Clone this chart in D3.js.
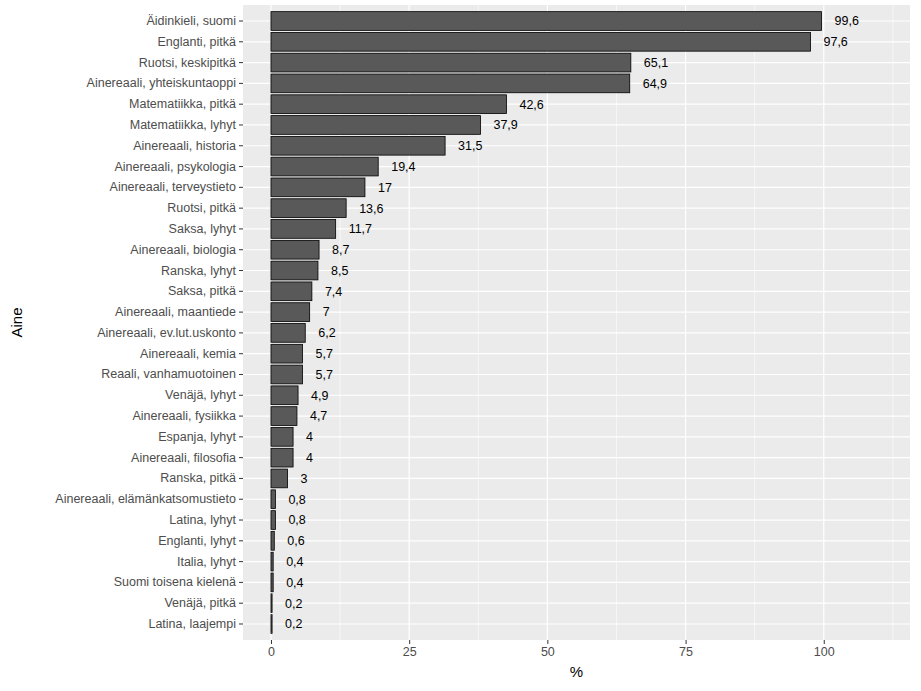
<!DOCTYPE html>
<html><head><meta charset="utf-8">
<script src="https://cdn.jsdelivr.net/npm/d3@7"></script>
<style>body{margin:0;background:#fff;font-family:"Liberation Sans",Arial,sans-serif}</style>
</head><body><div id="chart"></div>
<script>
const subjects = ["Äidinkieli, suomi","Englanti, pitkä","Ruotsi, keskipitkä","Ainereaali, yhteiskuntaoppi","Matematiikka, pitkä","Matematiikka, lyhyt","Ainereaali, historia","Ainereaali, psykologia","Ainereaali, terveystieto","Ruotsi, pitkä","Saksa, lyhyt","Ainereaali, biologia","Ranska, lyhyt","Saksa, pitkä","Ainereaali, maantiede","Ainereaali, ev.lut.uskonto","Ainereaali, kemia","Reaali, vanhamuotoinen","Venäjä, lyhyt","Ainereaali, fysiikka","Espanja, lyhyt","Ainereaali, filosofia","Ranska, pitkä","Ainereaali, elämänkatsomustieto","Latina, lyhyt","Englanti, lyhyt","Italia, lyhyt","Suomi toisena kielenä","Venäjä, pitkä","Latina, laajempi"];
const percents = [99.6,97.6,65.1,64.9,42.6,37.9,31.5,19.4,17,13.6,11.7,8.7,8.5,7.4,7,6.2,5.7,5.7,4.9,4.7,4,4,3,0.8,0.8,0.6,0.4,0.4,0.2,0.2];
const xTicks = [0,25,50,75,100];
const xMinor = [12.5,37.5,62.5,87.5,112.5];

const W = 921, H = 691;
const m = {left: 243, right: 11, top: 5, bottom: 51};
const pw = W - m.left - m.right, ph = H - m.top - m.bottom;

const svg = d3.select("#chart").append("svg").attr("width", W).attr("height", H);
const g = svg.append("g").attr("transform", `translate(${m.left},${m.top})`);

const x = d3.scaleLinear().domain([-5.06, 115.6]).range([0, pw]);
const y = d3.scaleBand().domain(subjects).range([0, ph]).paddingInner(0.1).paddingOuter(0.32);
const fmt = v => String(v).replace(".", ",");

g.append("rect").attr("width", pw).attr("height", ph).attr("fill", "#ebebeb");
g.selectAll(".minor").data(xMinor).join("line")
  .attr("x1", d => x(d)).attr("x2", d => x(d)).attr("y2", ph)
  .attr("stroke", "#fff").attr("stroke-width", 0.6);
g.selectAll(".vmaj").data(xTicks).join("line")
  .attr("x1", d => x(d)).attr("x2", d => x(d)).attr("y2", ph)
  .attr("stroke", "#fff").attr("stroke-width", 1.2);
g.selectAll(".hmaj").data(subjects).join("line")
  .attr("y1", d => y(d) + y.bandwidth() / 2).attr("y2", d => y(d) + y.bandwidth() / 2)
  .attr("x2", pw).attr("stroke", "#fff").attr("stroke-width", 1.2);

g.selectAll(".bar").data(subjects).join("rect")
  .attr("x", x(0)).attr("y", d => y(d))
  .attr("width", (d, i) => x(percents[i]) - x(0)).attr("height", y.bandwidth())
  .attr("fill", "#595959").attr("stroke", "#000").attr("stroke-width", 0.8);

g.selectAll(".lab").data(subjects).join("text")
  .attr("x", (d, i) => x(percents[i]) + 13).attr("y", d => y(d) + y.bandwidth() / 2)
  .attr("dy", "0.35em").attr("font-size", 12.5).attr("fill", "#000")
  .text((d, i) => fmt(percents[i]));

const ya = g.append("g").call(d3.axisLeft(y).tickSize(4).tickPadding(3));
ya.select(".domain").remove();
ya.selectAll("line").attr("stroke", "#333");
ya.selectAll("text").attr("font-size", 12.5).attr("fill", "#4d4d4d").attr("font-family", "Liberation Sans, Arial");

const xa = g.append("g").attr("transform", `translate(0,${ph})`).call(d3.axisBottom(x).tickValues(xTicks).tickSize(4).tickPadding(3));
xa.select(".domain").remove();
xa.selectAll("line").attr("stroke", "#333");
xa.selectAll("text").attr("font-size", 12.5).attr("fill", "#4d4d4d").attr("font-family", "Liberation Sans, Arial");

svg.append("text").attr("x", m.left + pw / 2).attr("y", H - 14).attr("text-anchor", "middle")
  .attr("font-size", 15).text("%");
svg.append("text").attr("transform", `translate(22,${m.top + ph / 2}) rotate(-90)`)
  .attr("text-anchor", "middle").attr("font-size", 15).text("Aine");
</script></body></html>
